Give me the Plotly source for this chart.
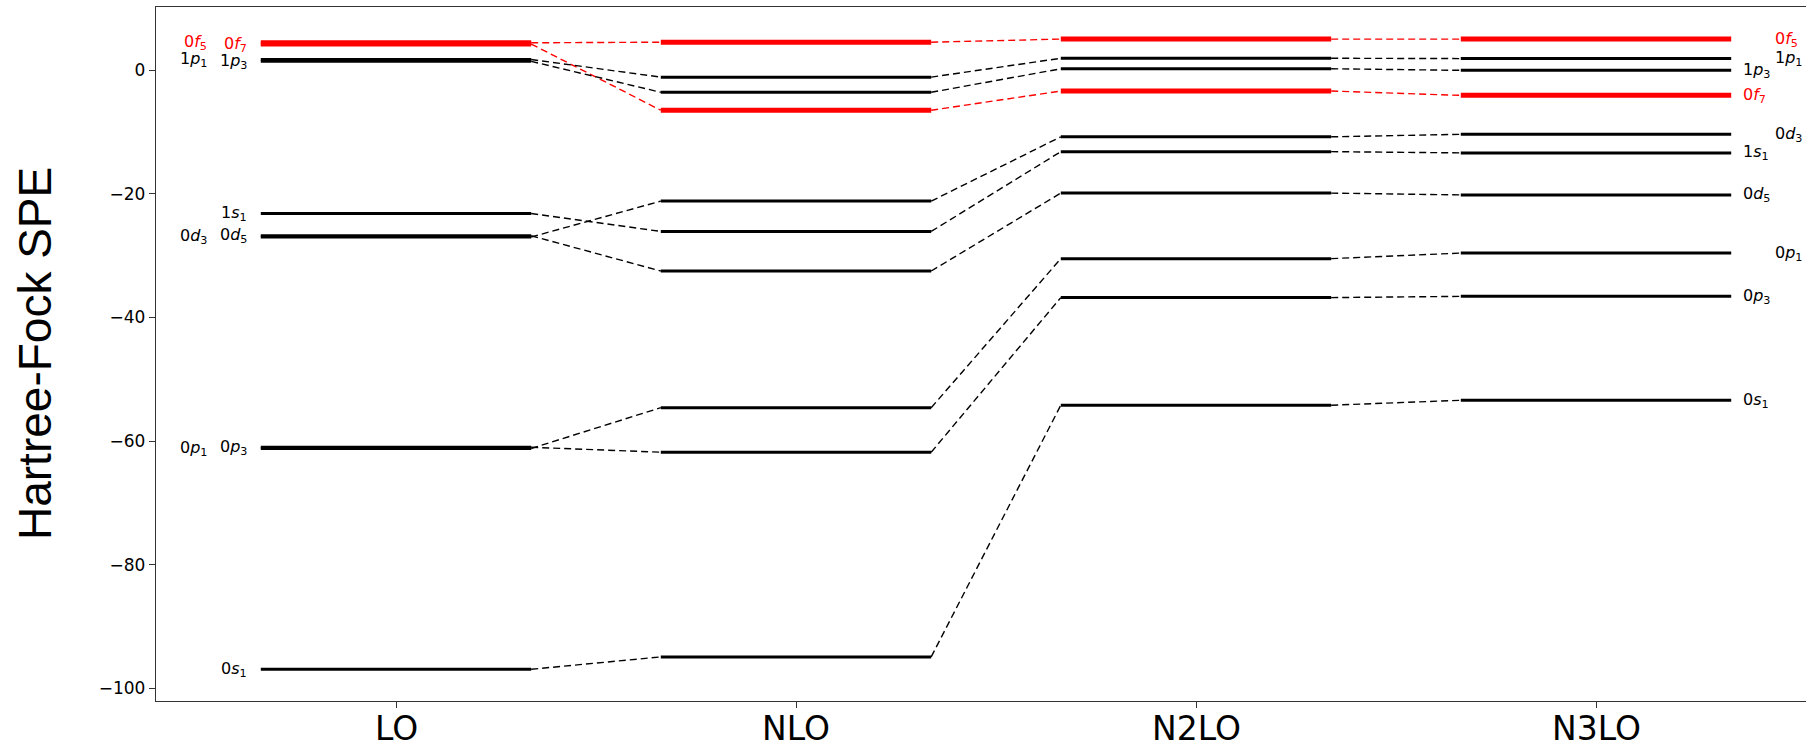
import plotly.graph_objects as go

# Orbitals and their Hartree-Fock single-particle energies at each chiral order
orbitals = ["0s1", "0p3", "0p1", "0d5", "0d3", "1s1", "0f7", "0f5", "1p3", "1p1"]
orbital_labels = [
    "0<i>s</i><sub>1</sub>", "0<i>p</i><sub>3</sub>", "0<i>p</i><sub>1</sub>",
    "0<i>d</i><sub>5</sub>", "0<i>d</i><sub>3</sub>", "1<i>s</i><sub>1</sub>",
    "0<i>f</i><sub>7</sub>", "0<i>f</i><sub>5</sub>", "1<i>p</i><sub>3</sub>",
    "1<i>p</i><sub>1</sub>",
]
orders = ["LO", "NLO", "N2LO", "N3LO"]

spe_LO = [-96.9, -61.0, -61.2, -26.8, -27.0, -23.2, 4.2, 4.4, 1.4, 1.7]
spe_NLO = [-94.9, -61.8, -54.6, -32.5, -21.2, -26.1, -6.5, 4.5, -3.6, -1.15]
spe_N2LO = [-54.2, -36.8, -30.5, -19.9, -10.8, -13.2, -3.4, 5.0, 0.2, 1.9]
spe_N3LO = [-53.4, -36.6, -29.6, -20.2, -10.4, -13.4, -4.1, 5.0, -0.05, 1.85]

spe = [spe_LO, spe_NLO, spe_N2LO, spe_N3LO]

# spin-orbit partners whose labels go in the outer column
outer = {"0p1", "0d3", "0f5", "1p1"}
red_levels = {"0f7", "0f5"}

half = 0.338

fig = go.Figure()

# dashed connectors between consecutive orders
for k, name in enumerate(orbitals):
    color = "#ff0000" if name in red_levels else "black"
    xs, ys = [], []
    for i in range(len(orders) - 1):
        xs += [i + half, i + 1 - half, None]
        ys += [spe[i][k], spe[i + 1][k], None]
    fig.add_trace(go.Scatter(x=xs, y=ys, mode="lines",
                             line=dict(color=color, width=1.4, dash="7px,4px"),
                             hoverinfo="skip", showlegend=False))

# level bars
for k, name in enumerate(orbitals):
    red = name in red_levels
    xs, ys = [], []
    for i in range(len(orders)):
        xs += [i - half, i + half, None]
        ys += [spe[i][k], spe[i][k], None]
    fig.add_trace(go.Scatter(x=xs, y=ys, mode="lines",
                             line=dict(color="#ff0000" if red else "black",
                                       width=5 if red else 3),
                             name=name, showlegend=False))

# orbital labels on both sides
annotations = []
for k, name in enumerate(orbitals):
    color = "#ff0000" if name in red_levels else "black"
    is_outer = name in outer
    annotations.append(dict(
        x=0 - half, y=spe_LO[k], xref="x", yref="y", text=orbital_labels[k],
        showarrow=False, xanchor="right", yanchor="middle",
        xshift=-52 if is_outer else -12,
        font=dict(family="DejaVu Sans", size=16, color=color)))
    annotations.append(dict(
        x=3 + half, y=spe_N3LO[k], xref="x", yref="y", text=orbital_labels[k],
        showarrow=False, xanchor="left", yanchor="middle",
        xshift=42 if is_outer else 10,
        font=dict(family="DejaVu Sans", size=16, color=color)))

# category labels under the x axis, set close to the tick marks
for i, name in enumerate(orders):
    annotations.append(dict(
        x=i, y=0, xref="x", yref="paper", text=name, showarrow=False,
        xanchor="center", yanchor="middle", yshift=-27,
        font=dict(family="DejaVu Sans", size=33, color="black")))

# y-axis title
annotations.append(dict(
    x=0, y=0.5, xref="paper", yref="paper", text="Hartree-Fock SPE",
    showarrow=False, textangle=-90, xanchor="center", yanchor="middle",
    xshift=-121, font=dict(family="Liberation Sans", size=46, color="black")))

fig.update_layout(
    width=1806, height=745,
    margin=dict(l=156, r=0, t=7, b=44, autoexpand=False),
    paper_bgcolor="white", plot_bgcolor="white",
    annotations=annotations,
    xaxis=dict(range=[-0.6, 3.525], tickmode="array", automargin=False,
               tickvals=list(range(len(orders))), showticklabels=False,
               showgrid=False, zeroline=False, showline=True, mirror=True,
               linecolor="#333333", linewidth=1.3,
               ticks="outside", ticklen=6, tickwidth=1.2, tickcolor="#333333"),
    yaxis=dict(range=[-102.03, 10.19], tickmode="array", automargin=False,
               tickvals=[-100, -80, -60, -40, -20, 0],
               ticktext=["\u2212100", "\u221280", "\u221260", "\u221240", "\u221220", "0"],
               showgrid=False, zeroline=False, showline=True,
               linecolor="#333333", linewidth=1.3,
               ticks="outside", ticklen=6, tickwidth=1.2, tickcolor="#333333",
               tickfont=dict(family="DejaVu Sans", size=17, color="black")),
)

fig.write_html("out.html")
